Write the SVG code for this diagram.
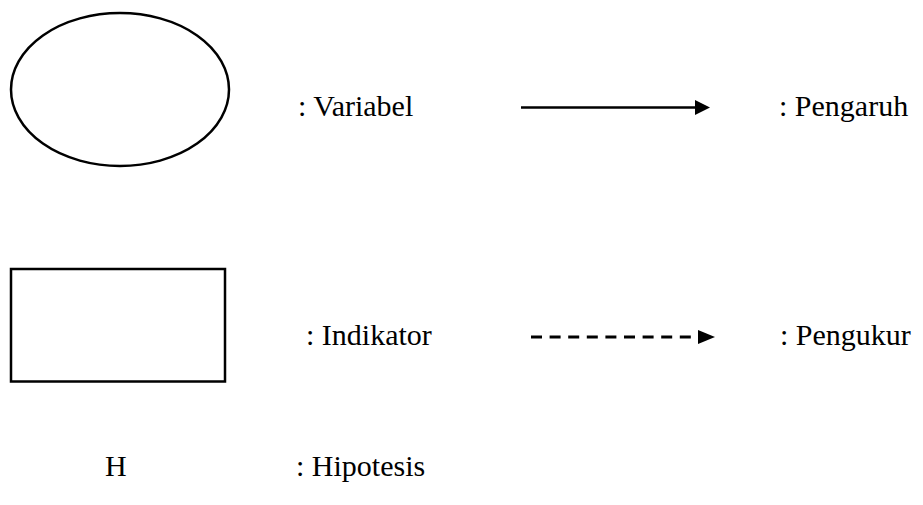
<svg xmlns="http://www.w3.org/2000/svg" width="923" height="505" viewBox="0 0 923 505">
<style>
.shape{fill:#fff;stroke:#000;stroke-width:2.5}
.t{font-family:"Liberation Serif","Times New Roman",serif;font-size:30px;fill:#000}
</style>
<rect width="923" height="505" fill="#fff"/>
<g id="node-variabel"><ellipse class="shape" cx="120" cy="89.5" rx="109" ry="76.5"/></g>
<g id="node-indikator"><rect class="shape" x="11" y="269" width="214" height="112.5"/></g>
<g id="labels">
<text class="t" x="298" y="116">: Variabel</text>
<text class="t" x="306" y="345">: Indikator</text>
<text class="t" x="105" y="476">H</text>
<text class="t" x="296" y="476">: Hipotesis</text>
<text class="t" x="779" y="116">: Pengaruh</text>
<text class="t" x="780" y="345">: Pengukur</text>
</g>
<g id="connectors">
<line x1="521" y1="107.5" x2="697" y2="107.5" stroke="#000" stroke-width="2.5"/>
<polygon points="695,100 710,107.5 695,115" fill="#000"/>
<line x1="531" y1="337" x2="692" y2="337" stroke="#000" stroke-width="3" stroke-dasharray="11 7.6"/>
<polygon points="698,330 715,337 698,344" fill="#000"/>
</g>
</svg>
